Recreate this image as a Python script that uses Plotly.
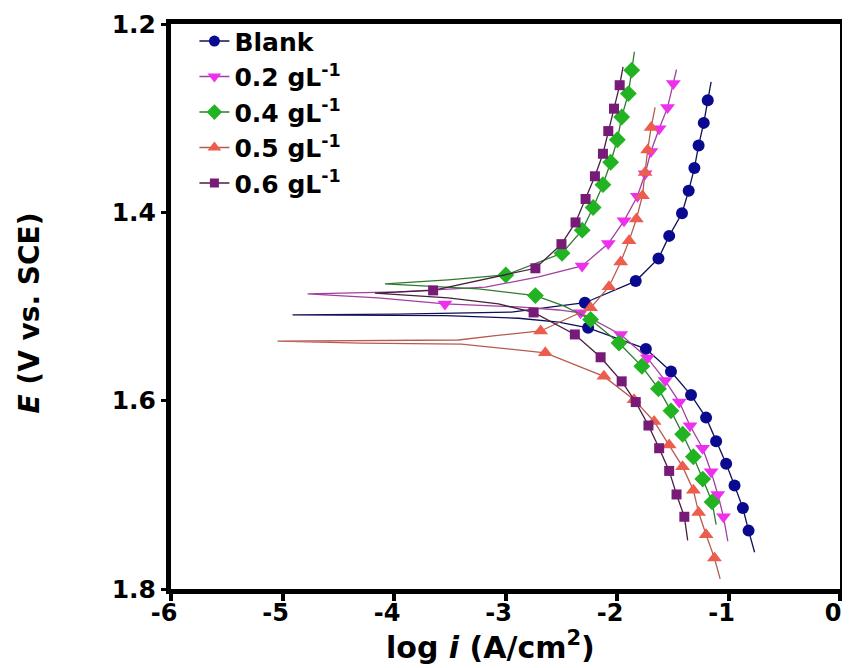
import plotly.graph_objects as go

# ---- data (log i in A/cm2, E in V vs. SCE) ----
SERIES_NAMES = ["Blank", "0.2 gL<sup>-1</sup>", "0.4 gL<sup>-1</sup>", "0.5 gL<sup>-1</sup>", "0.6 gL<sup>-1</sup>"]

BLANK_X = [-1.156, -1.186, -1.222, -1.268, -1.306, -1.357, -1.417, -1.532, -1.628, -1.832, -2.288,
           -2.946, -3.964, -4.910, -3.541, -2.883, -2.523,
           -2.259, -1.741, -1.516, -1.336, -1.201, -1.111, -1.021, -0.946, -0.871, -0.820, -0.766]
BLANK_E = [1.2615, 1.281, 1.305, 1.329, 1.353, 1.377, 1.401, 1.425, 1.449, 1.473, 1.496,
           1.506, 1.508, 1.509, 1.5097, 1.5125, 1.5165,
           1.5226, 1.545, 1.569, 1.594, 1.618, 1.643, 1.667, 1.690, 1.714, 1.738, 1.761]
BLANK_MARKED = [1, 2, 3, 4, 5, 6, 7, 8, 9, 10, 17, 18, 19, 20, 21, 22, 23, 24, 25, 26]

C02_X = [-1.466, -1.495, -1.547, -1.622, -1.696, -1.748, -1.817, -1.937, -2.078, -2.313,
         -2.703, -3.180, -3.964, -4.775, -4.144, -3.543, -2.883, -2.523,
         -2.327, -1.967, -1.727, -1.568, -1.441, -1.345, -1.232, -1.156, -1.096, -1.045, -1.006]
C02_E = [1.2483, 1.2632, 1.2888, 1.3112, 1.3354, 1.3591, 1.383, 1.409, 1.4331, 1.4569,
         1.4685, 1.4795, 1.4845, 1.4866, 1.4909, 1.4973, 1.5005, 1.5037,
         1.5067, 1.5297, 1.5546, 1.5787, 1.6015, 1.6267, 1.6505, 1.6754, 1.6996, 1.7233, 1.7493]
C02_MARKED = [1, 2, 3, 4, 5, 6, 7, 8, 9, 15, 18, 19, 20, 21, 22, 23, 24, 25, 26, 27]

C04_X = [-1.844, -1.868, -1.898, -1.958, -1.997, -2.057, -2.126, -2.214, -2.312, -2.493, -2.997,
         -3.514, -4.081, -3.243, -2.732, -2.477,
         -2.237, -1.982, -1.777, -1.628, -1.516, -1.411, -1.315, -1.231, -1.147, -1.111]
C04_E = [1.2295, 1.249, 1.2739, 1.2988, 1.3229, 1.3468, 1.3706, 1.3948, 1.4189, 1.4434, 1.4665,
         1.4717, 1.476, 1.4813, 1.4884, 1.4994,
         1.5138, 1.5387, 1.5635, 1.5873, 1.6108, 1.6357, 1.6595, 1.6833, 1.7075, 1.7317]
C04_MARKED = [1, 2, 3, 4, 5, 6, 7, 8, 9, 10, 14, 16, 17, 18, 19, 20, 21, 22, 23, 24]

C05_X = [-1.658, -1.694, -1.725, -1.748, -1.772, -1.826, -1.892, -1.967, -2.072, -2.237, -2.685,
         -3.090, -3.423, -5.045, -4.297, -3.396,
         -2.643, -2.117, -1.847, -1.667, -1.532, -1.412, -1.315, -1.268, -1.201, -1.126, -1.075]
C05_E = [1.2885, 1.3098, 1.3338, 1.3578, 1.3823, 1.4071, 1.4303, 1.4527, 1.479, 1.5014, 1.526,
         1.531, 1.5356, 1.5367, 1.5388, 1.5399,
         1.5492, 1.5742, 1.5989, 1.6221, 1.647, 1.6701, 1.695, 1.7188, 1.7423, 1.7672, 1.7893]
C05_MARKED = [1, 2, 3, 4, 5, 6, 7, 8, 9, 10, 16, 17, 18, 19, 20, 21, 22, 23, 24, 25]

C06_X = [-1.946, -1.976, -2.027, -2.078, -2.126, -2.198, -2.282, -2.372, -2.498, -2.732, -3.649,
         -4.171, -3.514, -3.063,
         -2.748, -2.378, -2.147, -1.958, -1.832, -1.718, -1.622, -1.532, -1.466, -1.396, -1.366]
C06_E = [1.2455, 1.265, 1.2899, 1.3137, 1.3378, 1.3617, 1.3858, 1.4107, 1.4338, 1.4594, 1.4829,
         1.4859, 1.4909, 1.4973,
         1.5063, 1.5297, 1.5539, 1.5795, 1.6015, 1.6264, 1.6505, 1.6746, 1.6996, 1.7233, 1.7483]
C06_MARKED = [1, 2, 3, 4, 5, 6, 7, 8, 9, 10, 14, 15, 16, 17, 18, 19, 20, 21, 22, 23]

X_TICKS = [-6, -5, -4, -3, -2, -1, 0]
Y_TICKS = [1.2, 1.4, 1.6, 1.8]

# ---- styles ----
STYLE = [
    dict(color="#0A0A90", line="#101058", symbol="circle", size=12),
    dict(color="#EE30EE", line="#A0409F", symbol="triangle-down", size=13),
    dict(color="#22B322", line="#2F7A30", symbol="diamond", size=13),
    dict(color="#EC5D4D", line="#B85A50", symbol="triangle-up", size=13),
    dict(color="#781A78", line="#45203F", symbol="square", size=10),
]

DATA = [(BLANK_X, BLANK_E, BLANK_MARKED), (C02_X, C02_E, C02_MARKED), (C04_X, C04_E, C04_MARKED),
        (C05_X, C05_E, C05_MARKED), (C06_X, C06_E, C06_MARKED)]

fig = go.Figure()
for name, (xs, es, marked), st in zip(SERIES_NAMES, DATA, STYLE):
    fig.add_trace(go.Scatter(x=xs, y=es, mode="lines", line=dict(color=st["line"], width=1.3),
                             showlegend=False, hoverinfo="skip"))
    fig.add_trace(go.Scatter(x=[xs[i] for i in marked], y=[es[i] for i in marked], mode="markers",
                             marker=dict(symbol=st["symbol"], size=st["size"], color=st["color"],
                                         line=dict(width=0)),
                             showlegend=False))
    fig.add_trace(go.Scatter(x=[None], y=[None], mode="lines+markers", name=name,
                             line=dict(color=st["line"], width=1.5),
                             marker=dict(symbol=st["symbol"], size=st["size"] - 1, color=st["color"],
                                         line=dict(width=0))))

FONT = "DejaVu Sans"
fig.update_layout(
    width=842, height=660,
    margin=dict(l=163, r=10, t=14, b=79),
    paper_bgcolor="white", plot_bgcolor="white",
    showlegend=True,
    legend=dict(x=0.035, y=1.01, xanchor="left", yanchor="top", bgcolor="rgba(0,0,0,0)",
                font=dict(family=FONT, size=25, color="black", weight="bold"),
                tracegroupgap=0, itemwidth=30),
    xaxis=dict(range=[-6, 0], tickvals=X_TICKS, ticktext=[str(v) for v in X_TICKS],
               automargin=False, ticklabeloverflow="allow",
               ticklabelshift=-7, ticklabelstandoff=-9,
               showline=True, linecolor="black", linewidth=5, mirror=True,
               ticks="outside", ticklen=7, tickwidth=4, tickcolor="black",
               showgrid=False, zeroline=False,
               tickfont=dict(family=FONT, size=24, color="black", weight="bold")),
    yaxis=dict(range=[1.8, 1.2], tickvals=Y_TICKS, ticktext=["%.1f" % v for v in Y_TICKS],
               automargin=False, ticklabeloverflow="allow",
               showline=True, linecolor="black", linewidth=5, mirror=True,
               ticks="outside", ticklen=5, tickwidth=3, tickcolor="black",
               showgrid=False, zeroline=False,
               tickfont=dict(family=FONT, size=25, color="black", weight="bold")),
    annotations=[
        dict(text="log <i>i</i> (A/cm<sup>2</sup>)", xref="paper", yref="paper",
             x=0.477, y=-0.1, xanchor="center", yanchor="middle", showarrow=False,
             font=dict(family=FONT, size=30, color="black", weight="bold")),
        dict(text="<i>E</i> (V vs. SCE)", xref="paper", yref="paper",
             x=-0.211, y=0.489, xanchor="center", yanchor="middle", showarrow=False, textangle=-90,
             font=dict(family=FONT, size=28, color="black", weight="bold")),
    ],
)

fig.write_html("out.html")
